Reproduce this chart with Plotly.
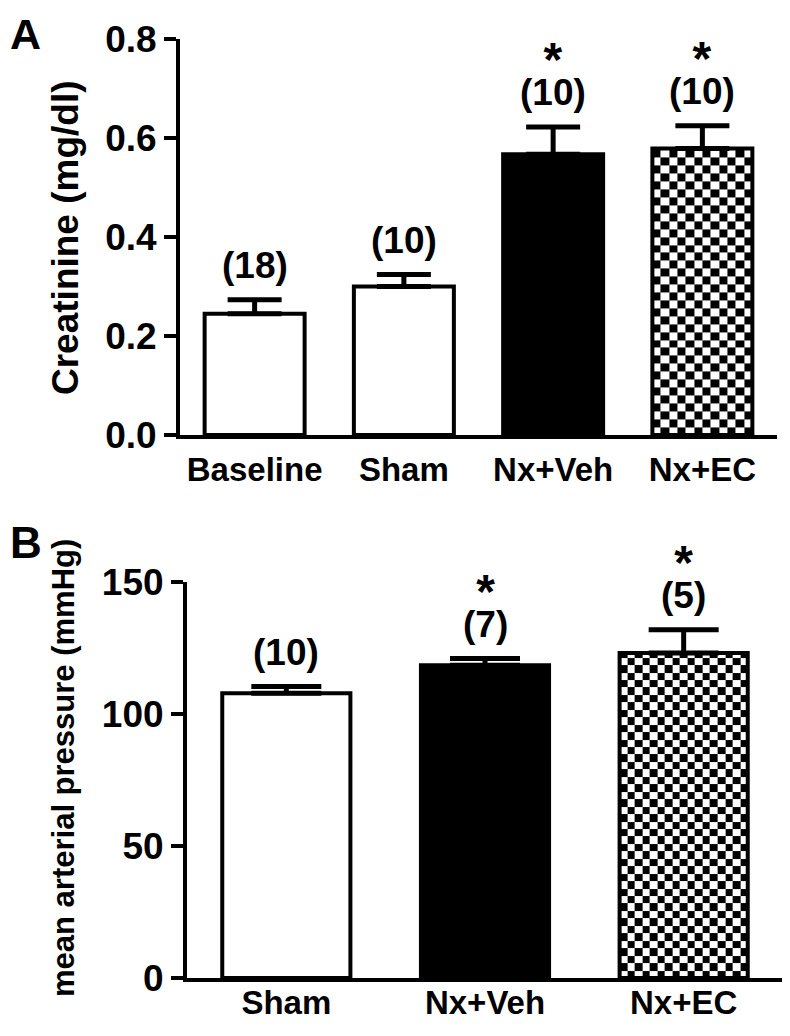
import numpy as np
import plotly.graph_objects as go

# ---------------- data ----------------
cats_a = ["Baseline", "Sham", "Nx+Veh", "Nx+EC"]
creat_mean = [0.245, 0.300, 0.567, 0.579]
creat_sem = [0.028, 0.024, 0.055, 0.046]
creat_n = ["(18)", "(10)", "(10)", "(10)"]
creat_sig = [False, False, True, True]
fills_a = ["white", "white", "black", "checker"]

cats_b = ["Sham", "Nx+Veh", "Nx+EC"]
map_mean = [107.8, 118.4, 123.0]
map_sem = [2.5, 2.5, 8.8]
map_n = ["(10)", "(7)", "(5)"]
map_sig = [False, True, True]
fills_b = ["white", "black", "checker"]

ticks_a = [0.0, 0.2, 0.4, 0.6, 0.8]
ticks_b = [0, 50, 100, 150]

FONT = "Liberation Sans, Arial, Helvetica, sans-serif"
OFF = 8              # page body margin of the html page
FW, FH = 782, 1020   # figure size so that the page fits the 790x1036 window


def px(p):  # window x pixel -> paper fraction
    return (p - OFF) / FW


def py(p):  # window y pixel -> paper fraction
    return 1 - (p - OFF) / FH


fig = go.Figure()


def add_panel(cats, means, sems, ns, sigs, fills, xa, ya, bar_w, ncols, cell_h, cap_hw):
    xs = list(range(len(cats)))
    # checkerboard fill (heatmap limited to the bar extent)
    for x, m, f in zip(xs, means, fills):
        if f == "checker":
            xe = np.linspace(x - bar_w / 2, x + bar_w / 2, ncols + 1)
            ye = np.append(np.arange(0, m, cell_h), m)
            z = [[(i + j) % 2 for j in range(ncols)] for i in range(len(ye) - 1)]
            fig.add_trace(go.Heatmap(
                x=xe, y=ye, z=z, xaxis=xa, yaxis=ya,
                colorscale=[[0, "white"], [1, "black"]], zmin=0, zmax=1,
                showscale=False, hoverinfo="skip", zsmooth=False))
    colors = ["rgba(0,0,0,0)" if f == "checker" else f for f in fills]
    fig.add_trace(go.Bar(
        x=xs, y=means, width=bar_w, xaxis=xa, yaxis=ya,
        marker=dict(color=colors, line=dict(color="black", width=4)),
        error_y=dict(type="data", symmetric=False, array=sems,
                     arrayminus=[0] * len(sems), color="black",
                     thickness=5, width=cap_hw),
        showlegend=False, hoverinfo="skip"))
    for x, m, s, n, sig in zip(xs, means, sems, ns, sigs):
        if sig:
            txt = ("<span style='font-size:48px'>*</span><br>"
                   f"<span style='font-size:37px'>{n}</span>")
            fsize = 22
        else:
            txt = n
            fsize = 37
        fig.add_annotation(x=x, y=m + s, xref=xa, yref=ya, text=txt,
                           showarrow=False, yanchor="bottom", yshift=12,
                           font=dict(family=FONT, size=fsize, color="black", weight="bold"))


add_panel(cats_a, creat_mean, creat_sem, creat_n, creat_sig, fills_a,
          "x", "y", 0.67, 12, 0.016, 27)
add_panel(cats_b, map_mean, map_sem, map_n, map_sig, fills_b,
          "x2", "y2", 0.645, 17, 2.82, 35)

axis_common = dict(showline=True, linecolor="black", linewidth=4, showgrid=False,
                   zeroline=False, mirror=False, automargin=False, fixedrange=True)

fig.update_layout(
    width=FW, height=FH, margin=dict(l=0, r=0, t=0, b=0, autoexpand=False),
    paper_bgcolor="white", plot_bgcolor="white", showlegend=False,
    font=dict(family=FONT, color="black"),
    xaxis=dict(domain=[px(180), px(777)], range=[-0.5, len(cats_a) - 0.5],
               tickvals=list(range(len(cats_a))), ticktext=cats_a, ticks="",
               anchor="y", ticklabelstandoff=2,
               tickfont=dict(family=FONT, size=33, color="black", weight="bold"),
               **axis_common),
    yaxis=dict(domain=[py(435), py(39)], range=[0, 0.8],
               tickvals=ticks_a, ticktext=[f"{t:.1f}" for t in ticks_a],
               ticks="outside", ticklen=12, tickwidth=4, tickcolor="black",
               anchor="x",
               tickfont=dict(family=FONT, size=37, color="black", weight="bold"),
               **axis_common),
    xaxis2=dict(domain=[px(187), px(783)], range=[-0.5, len(cats_b) - 0.5],
                tickvals=list(range(len(cats_b))), ticktext=cats_b, ticks="",
                anchor="y2", ticklabelstandoff=-8,
                tickfont=dict(family=FONT, size=33, color="black", weight="bold"),
                **axis_common),
    yaxis2=dict(domain=[py(978), py(581.7)], range=[0, 150],
                tickvals=ticks_b, ticktext=[str(t) for t in ticks_b],
                ticks="outside", ticklen=12, tickwidth=4, tickcolor="black",
                anchor="x2",
                tickfont=dict(family=FONT, size=37, color="black", weight="bold"),
                **axis_common),
)

# axis titles and panel letters
fig.add_annotation(xref="paper", yref="paper", x=px(66), y=py(238),
                   text="Creatinine (mg/dl)", textangle=-90, showarrow=False,
                   xanchor="center", yanchor="middle",
                   font=dict(family=FONT, size=37, color="black", weight="bold"))
fig.add_annotation(xref="paper", yref="paper", x=px(63), y=py(768),
                   text="mean arterial pressure (mmHg)", textangle=-90, showarrow=False,
                   xanchor="center", yanchor="middle",
                   font=dict(family=FONT, size=31, color="black", weight="bold"))
fig.add_annotation(xref="paper", yref="paper", x=px(OFF), y=py(OFF), 
                   text="A", showarrow=False, xanchor="left", yanchor="top",
                   font=dict(family=FONT, size=43, color="black", weight="bold"))
fig.add_annotation(xref="paper", yref="paper", x=px(OFF), y=py(542),
                   text="B", showarrow=False, xanchor="left", yanchor="middle",
                   font=dict(family=FONT, size=44, color="black", weight="bold"))

fig.write_html("out.html")
